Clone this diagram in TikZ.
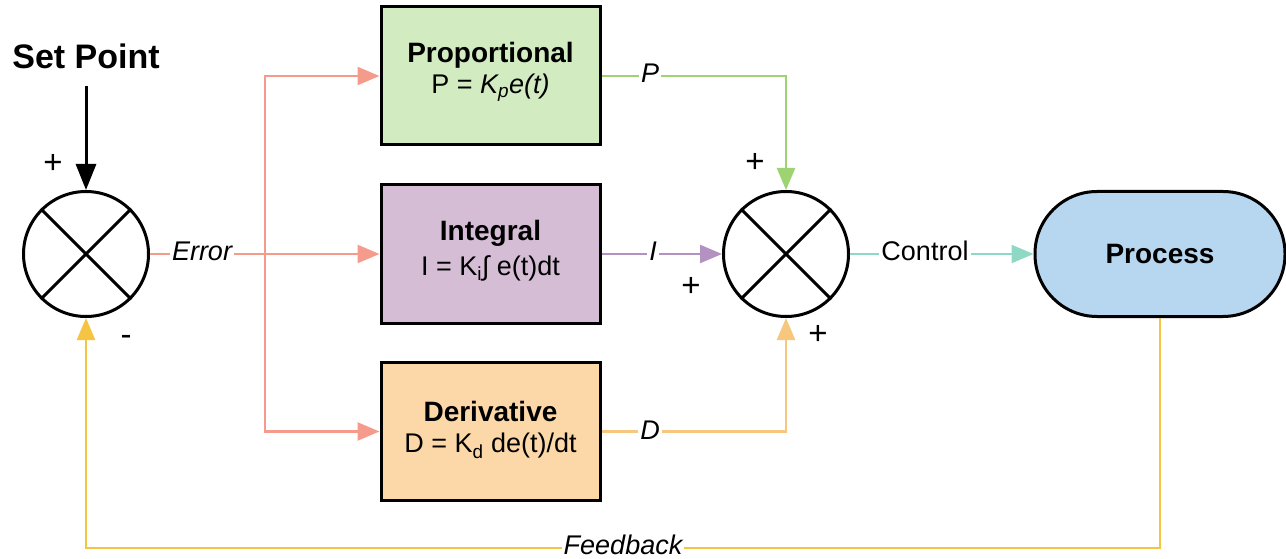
\documentclass[tikz,border=0pt]{standalone}
\usepackage{fontspec}
\setmainfont{Liberation Sans}
\usetikzlibrary{arrows.meta}
\definecolor{errc}{HTML}{F59B8C}
\definecolor{pc}{HTML}{9DD371}
\definecolor{ic}{HTML}{B391C1}
\definecolor{dc}{HTML}{F6C77C}
\definecolor{fbc}{HTML}{F5C443}
\definecolor{cc}{HTML}{8FD8C6}
\definecolor{pfill}{HTML}{D2EBC0}
\definecolor{ifill}{HTML}{D5BDD6}
\definecolor{dfill}{HTML}{FCD8A8}
\definecolor{prfill}{HTML}{B7D6F0}
\newcommand{\fs}[1]{\fontsize{#1}{#1}\selectfont}
\begin{document}
\begin{tikzpicture}[x=1pt,y=-1pt,
  sumj/.style={circle,draw=black,line width=3pt,minimum size=125pt,inner sep=0pt},
  block/.style={draw=black,line width=3pt,minimum width=219pt,minimum height=138pt,inner sep=0pt},
  btitle/.style={font=\fs{28}\bfseries,inner sep=0pt},
  bformula/.style={font=\fs{27},inner sep=0pt},
  link/.style={line width=2.5pt},
  tip/.style={-{Triangle[length=22pt,width=18pt]}},
  lbl/.style={fill=white,inner sep=2pt,font=\fs{27}\itshape},
  sgn/.style={font=\fs{33}},
]
\useasboundingbox (0,0) rectangle (1286,559);

% summing junctions
\node[sumj] (s1) at (86,254) {};
\draw[line width=3pt] (s1.north west) -- (s1.south east) (s1.north east) -- (s1.south west);
\node[sumj] (s2) at (786,254) {};
\draw[line width=3pt] (s2.north west) -- (s2.south east) (s2.north east) -- (s2.south west);

% set point input
\node[font=\fs{34}\bfseries] (sp) at (86,56) {Set Point};
\coordinate (spt) at (86,86);
\draw[line width=3pt,-{Triangle[length=26pt,width=20pt]}] (spt) -- (s1.north);
\node[sgn] (p1) at (53,164) {+};
\node[sgn] (m1) at (126,340) {-};

% controller blocks
\node[block,fill=pfill] (pb) at (490.5,76) {};
\node[btitle] (pbt) at (490.5,55) {Proportional};
\node[bformula] (pbf) at (490.5,88) {P = \textit{K\textsubscript{p}e(t)}};
\node[block,fill=ifill] (ib) at (490.5,254) {};
\node[btitle] (ibt) at (490.5,233) {Integral};
\node[bformula] (ibf) at (490.5,268) {I = K\textsubscript{i}∫ e(t)dt};
\node[block,fill=dfill] (db) at (490.5,431.5) {};
\node[btitle] (dbt) at (490.5,411) {Derivative};
\node[bformula] (dbf) at (490.5,446) {D = K\textsubscript{d} de(t)/dt};

% process block
\node[draw=black,line width=3pt,fill=prfill,rounded corners=62pt,minimum width=250pt,minimum height=125pt,font=\fs{28}\bfseries] (pr) at (1160,254) {Process};

% error distribution
\coordinate (br) at (265,254);
\draw[link,errc] (s1.east) -- (br);
\draw[link,errc,tip] (br) -- (ib.west);
\draw[link,errc,tip] (br) |- (pb.west);
\draw[link,errc,tip] (br) |- (db.west);
\node[lbl] (el) at (202,251) {Error};

% controller outputs
\draw[link,pc,tip] (pb.east) -| (s2.north);
\node[lbl] (pl) at (650,73) {P};
\draw[link,ic,tip] (ib.east) -- (s2.west);
\node[lbl] (il) at (653,251) {I};
\draw[link,dc,tip] (db.east) -| (s2.south);
\node[lbl] (dl) at (650,430) {D};
\node[sgn] (p2) at (755,163) {+};
\node[sgn] (p3) at (691,287) {+};
\node[sgn] (p4) at (818,335) {+};

% control signal
\draw[link,cc,tip] (s2.east) -- (pr.west);
\node[fill=white,inner sep=2pt,font=\fs{27}] (cl) at (925,251) {Control};

% feedback path
\coordinate (fb1) at (1160,548);
\coordinate (fb2) at (86,548);
\draw[link,fbc,tip] (pr.south) -- (fb1) -- (fb2) -- (s1.south);
\node[lbl] (fl) at (623,545) {Feedback};
\end{tikzpicture}
\end{document}
